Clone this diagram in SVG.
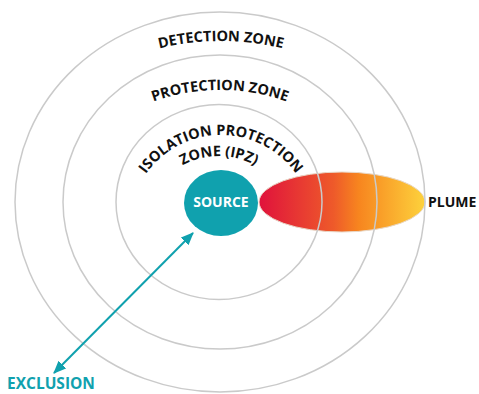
<svg xmlns="http://www.w3.org/2000/svg" width="479" height="394" viewBox="0 0 479 394">
<style>
.ring{fill:none;stroke:#cacaca;stroke-width:1.5}
.zt{font-family:"Open Sans","DejaVu Sans",sans-serif;font-weight:bold;font-size:14.5px;fill:#111}
.teal{fill:#10a1ae}
.lbl{font-family:"Open Sans","DejaVu Sans",sans-serif;font-weight:bold}
</style>
<defs>
<linearGradient id="pg" x1="0" y1="0" x2="1" y2="0">
<stop offset="0" stop-color="#e0123c"/>
<stop offset="0.45" stop-color="#ee5a2a"/>
<stop offset="0.6" stop-color="#f7851f"/>
<stop offset="1" stop-color="#fdd23c"/>
</linearGradient>
<marker id="ah" viewBox="0 0 12 10" refX="11" refY="5" markerWidth="6.5" markerHeight="5.5" orient="auto-start-reverse">
<path d="M0,0 L12,5 L0,10 z" fill="#10a1ae"/>
</marker>
<path id="p1" d="M -39 301 A 260 260 0 0 1 481 301"/>
<path id="p2" d="M 22 288 A 198 198 0 0 1 418 288"/>
<path id="p3" d="M 129 227 A 92 92 0 0 1 313 227"/>
<path id="p4" d="M 144 231 A 75 75 0 0 1 294 231"/>
</defs>
<g id="plume">
<ellipse cx="342" cy="202" rx="83" ry="30" fill="url(#pg)" stroke="#e8d8c8" stroke-width="1"/>
<text class="lbl" x="428" y="207" font-size="14" fill="#111">PLUME</text>
</g>
<g id="detection-zone">
<ellipse class="ring" cx="220" cy="202" rx="205" ry="190"/>
<text class="zt"><textPath href="#p1" startOffset="50%" text-anchor="middle">DETECTION ZONE</textPath></text>
</g>
<g id="protection-zone">
<ellipse class="ring" cx="220" cy="202" rx="157" ry="147"/>
<text class="zt"><textPath href="#p2" startOffset="50%" text-anchor="middle">PROTECTION ZONE</textPath></text>
</g>
<g id="isolation-zone">
<ellipse class="ring" cx="219" cy="202" rx="103" ry="97.5"/>
<text class="zt"><textPath href="#p3" startOffset="50%" text-anchor="middle">ISOLATION PROTECTION</textPath></text>
<text class="zt"><textPath href="#p4" startOffset="50%" text-anchor="middle">ZONE (IPZ)</textPath></text>
</g>
<g id="source">
<ellipse class="teal" cx="221" cy="203" rx="37" ry="33"/>
<text class="lbl" x="221" y="207" font-size="14" fill="#fff" text-anchor="middle">SOURCE</text>
</g>
<g id="connectors">
<line x1="193" y1="233" x2="54" y2="373" stroke="#10a1ae" stroke-width="2" marker-start="url(#ah)" marker-end="url(#ah)"/>
</g>
<g id="exclusion">
<text class="lbl teal" x="7" y="389" font-size="15.5">EXCLUSION</text>
</g>
</svg>
